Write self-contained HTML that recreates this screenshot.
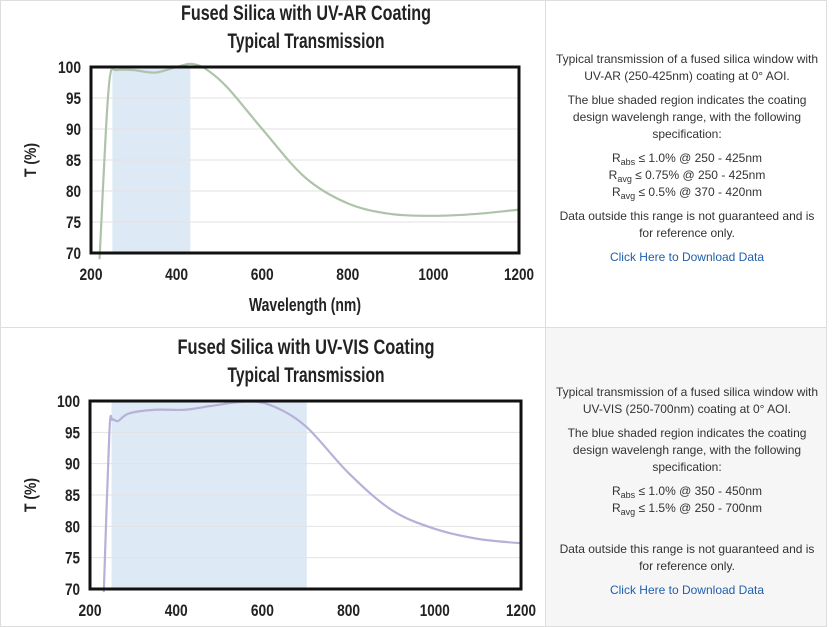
<!DOCTYPE html>
<html><head><meta charset="utf-8"><style>
body{margin:0;width:835px;height:625px;background:#fff;overflow:hidden;font-family:"Liberation Sans",sans-serif;position:relative}
.cell{position:absolute;box-sizing:border-box;border:1px solid #ddd}
.txt{position:absolute;left:553px;width:268px;text-align:center;font-size:12px;color:#333;line-height:17px}
.txt p{margin:0 0 7px}
.txt a{color:#1f5fae;text-decoration:none}
sub{font-size:9px;vertical-align:-3px;line-height:0}
svg text{font-family:"Liberation Sans",sans-serif;font-weight:bold;fill:#222}
</style></head><body>
<div class="cell" style="left:0;top:0;width:546px;height:328px"></div>
<div class="cell" style="left:545px;top:0;width:282px;height:328px"></div>
<div class="cell" style="left:0;top:327px;width:546px;height:300px;"></div>
<div class="cell" style="left:545px;top:327px;width:282px;height:300px;background:#f6f6f6"></div>
<svg id="s" width="835" height="625" style="position:absolute;left:0;top:0"></svg>
<div class="txt" style="top:51px">
<p>Typical transmission of a fused silica window with UV-AR (250-425nm) coating at 0° AOI.</p>
<p>The blue shaded region indicates the coating design wavelengh range, with the following specification:</p>
<p>R<sub>abs</sub> ≤ 1.0% @ 250 - 425nm<br>R<sub>avg</sub> ≤ 0.75% @ 250 - 425nm<br>R<sub>avg</sub> ≤ 0.5% @ 370 - 420nm</p>
<p>Data outside this range is not guaranteed and is for reference only.</p>
<p><a>Click Here to Download Data</a></p>
</div>
<div class="txt" style="top:384px">
<p>Typical transmission of a fused silica window with UV-VIS (250-700nm) coating at 0° AOI.</p>
<p>The blue shaded region indicates the coating design wavelengh range, with the following specification:</p>
<p>R<sub>abs</sub> ≤ 1.0% @ 350 - 450nm<br>R<sub>avg</sub> ≤ 1.5% @ 250 - 700nm</p>
<p style="margin-top:24px">Data outside this range is not guaranteed and is for reference only.</p>
<p><a>Click Here to Download Data</a></p>
</div>
<script>
function T(x,y,sz,anc,len,str,extra){return `<text x="${x}" y="${y}" font-size="${sz}" text-anchor="${anc}" textLength="${len}" lengthAdjust="spacingAndGlyphs"${extra||''}>${str}</text>`;}
function chart(o){
 let s='';const X=l=>o.x0+(l-200)*(o.x1-o.x0)/1000,Y=t=>o.yb-(t-70)*(o.yb-o.yt)/30;
 s+=`<rect x="${X(250)}" y="${o.yt}" width="${X(o.sh)-X(250)}" height="${o.yb-o.yt}" fill="#dde9f5"/>`;
 for(let t=75;t<100;t+=5)s+=`<line x1="${o.x0}" x2="${o.x1}" y1="${Y(t)}" y2="${Y(t)}" stroke="#e2e2e2"/>`;
 const p=o.pts.map(a=>[X(a[0]),Y(a[1])]);let d=`M${p[0]}`;
 for(let i=0;i<p.length-1;i++){const a=p[Math.max(i-1,0)],b=p[i],c=p[i+1],e=p[Math.min(i+2,p.length-1)];
  d+=`C${b[0]+(c[0]-a[0])/6},${b[1]+(c[1]-a[1])/6} ${c[0]-(e[0]-b[0])/6},${c[1]-(e[1]-b[1])/6} ${c[0]},${c[1]}`;}
 s+=`<path d="${d}" fill="none" stroke="${o.c}" stroke-width="2.2"/>`;
 s+=`<rect x="${o.x0}" y="${o.yt}" width="${o.x1-o.x0}" height="${o.yb-o.yt}" fill="none" stroke="#111" stroke-width="3"/>`;
 for(let t=70;t<=100;t+=5)s+=T(o.x0-10,Y(t)+6,17,"end",t==100?23:15,t);
 for(let l=200;l<=1200;l+=200)s+=T(X(l),o.yb+27,17,"middle",l>=1000?30:23,l);
 s+=T(0,0,17,"middle",34,"T (%)",` transform="translate(36,${(o.yt+o.yb)/2}) rotate(-90)"`);
 s+=T(o.tx,o.yt-47,21,"middle",o.w1,o.t1)+T(o.tx,o.yt-19,21,"middle",157,"Typical Transmission");
 if(o.xl)s+=T((o.x0+o.x1)/2,o.yb+58,18,"middle",112,"Wavelength (nm)");
 return s;}
document.getElementById('s').innerHTML=
chart({x0:91,x1:519,yt:67,yb:253,sh:432,c:"#aec3aa",tx:306,w1:250,t1:"Fused Silica with UV-AR Coating",xl:1,
 pts:[[220,69],[235,90],[245,98.8],[260,99.5],[300,99.5],[350,99.1],[400,100],[435,100.5],[470,99.6],[520,96.6],[600,90],[700,82.2],[800,78],[900,76.3],[1000,76],[1100,76.3],[1200,77]]})+
chart({x0:90,x1:521,yt:401,yb:589,sh:703,c:"#b7b0d9",tx:306,w1:257,t1:"Fused Silica with UV-VIS Coating",xl:0,
 pts:[[232,69.5],[245,95],[252,97],[265,96.8],[290,98],[350,98.6],[420,98.6],[480,99.2],[560,99.9],[620,99.3],[700,96],[800,88.5],[900,82.6],[1000,79.6],[1100,78],[1200,77.3]]});
</script>
</body></html>
